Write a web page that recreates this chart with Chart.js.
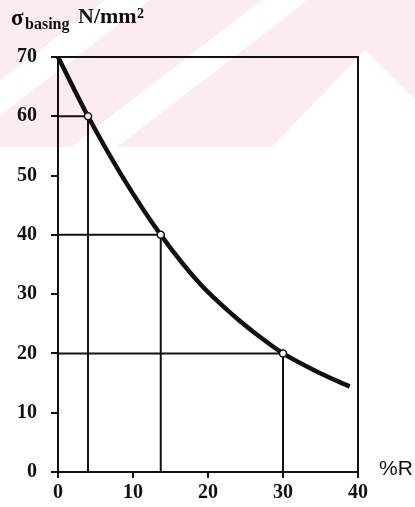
<!DOCTYPE html>
<html>
<head>
<meta charset="utf-8">
<script src="https://cdn.jsdelivr.net/npm/chart.js@4.4.1/dist/chart.umd.min.js"></script>
<style>
  html, body { margin: 0; padding: 0; background: #fff; }
</style>
</head>
<body>
<canvas id="chart" width="415" height="507"></canvas>
<script>
// curve (x = %R, y = sigma in N/mm2)
const curveX = [0, 4, 8.5, 13.7, 18.9, 23.4, 26.9, 30, 34.9, 38.9];
const curveY = [70, 60, 50, 40, 31.8, 26.4, 22.8, 20, 16.7, 14.4];
// marked points with their guide lines
const markX = [4, 13.7, 30];
const markY = [60, 40, 20];
const xTicks = [0, 10, 20, 30, 40];
const yTicks = [0, 10, 20, 30, 40, 50, 60, 70];

const ink = "#111";
const tickFont = { family: "Liberation Serif", weight: "bold", size: 20 };

const curveData = curveX.map((x, i) => ({ x: x, y: curveY[i] }));
const markData = markX.map((x, i) => ({ x: x, y: markY[i] }));

const guideSets = markX.map((x, i) => ({
  type: "line",
  data: [{ x: 0, y: markY[i] }, { x: x, y: markY[i] }, { x: x, y: 0 }],
  borderColor: ink,
  borderWidth: 2,
  pointRadius: 0,
  tension: 0,
  order: 2
}));

// faint pink watermark at the top of the scan
const watermark = {
  id: "watermark",
  beforeDraw(chart) {
    const ctx = chart.ctx;
    const h = 147, k = 1.3;
    ctx.save();
    ctx.fillStyle = "rgb(253,236,239)";
    ctx.fillRect(0, 0, chart.width, h);
    ctx.fillStyle = "#fff";
    [[105, 150], [262, 308]].forEach(b => {
      ctx.beginPath();
      ctx.moveTo(b[0], 0);
      ctx.lineTo(b[1], 0);
      ctx.lineTo(b[1] - k * h, h);
      ctx.lineTo(b[0] - k * h, h);
      ctx.closePath();
      ctx.fill();
    });
    ctx.beginPath();
    ctx.moveTo(365, 50);
    ctx.lineTo(415, 100);
    ctx.lineTo(415, h);
    ctx.lineTo(272, h);
    ctx.closePath();
    ctx.fill();
    ctx.restore();
  }
};

const labels = {
  id: "labels",
  afterDraw(chart) {
    const ctx = chart.ctx;
    ctx.save();
    ctx.fillStyle = ink;
    ctx.textBaseline = "alphabetic";
    ctx.textAlign = "left";
    ctx.font = "bold 23px 'Liberation Serif'";
    ctx.fillText("σ", 11, 25);
    ctx.font = "bold 16px 'Liberation Serif'";
    ctx.fillText("basing", 25, 29);
    ctx.font = "bold 22px 'Liberation Serif'";
    ctx.fillText("N/mm", 78, 23);
    ctx.font = "bold 14px 'Liberation Serif'";
    ctx.fillText("2", 137, 18);
    ctx.font = "21px 'Liberation Sans'";
    ctx.fillText("%R", 379, 475);
    ctx.restore();
  }
};

new Chart(document.getElementById("chart"), {
  type: "line",
  data: {
    datasets: [
      {
        data: markData,
        showLine: false,
        pointRadius: 3.5,
        pointBackgroundColor: "#fff",
        pointBorderColor: ink,
        pointBorderWidth: 1.5,
        order: 0
      },
      {
        data: curveData,
        borderColor: ink,
        borderWidth: 4.5,
        pointRadius: 0,
        cubicInterpolationMode: "monotone",
        order: 1
      },
      ...guideSets
    ]
  },
  options: {
    responsive: false,
    animation: false,
    clip: false,
    layout: { padding: { top: 57, right: 57, left: 0, bottom: 0 } },
    plugins: { legend: { display: false }, tooltip: { enabled: false } },
    scales: {
      x: {
        type: "linear",
        min: 0,
        max: 40,
        afterBuildTicks: s => { s.ticks = xTicks.map(v => ({ value: v })); },
        afterFit: s => { s.height = 35; },
        ticks: { font: tickFont, color: ink, padding: 3, maxRotation: 0 },
        grid: { drawOnChartArea: false, tickLength: 6, color: ink, lineWidth: 2 },
        border: { color: ink, width: 2 }
      },
      y: {
        type: "linear",
        min: 0,
        max: 70,
        afterBuildTicks: s => { s.ticks = yTicks.map(v => ({ value: v })); },
        afterFit: s => { s.width = 58; },
        ticks: { font: tickFont, color: ink, padding: 14 },
        grid: { drawOnChartArea: false, tickLength: 7, color: ink, lineWidth: 2 },
        border: { color: ink, width: 2 }
      },
      xTop: {
        type: "linear",
        position: "top",
        min: 0,
        max: 40,
        afterFit: s => { s.height = 0; },
        ticks: { display: false },
        grid: { display: false, drawTicks: false },
        border: { color: ink, width: 2 }
      },
      yRight: {
        type: "linear",
        position: "right",
        min: 0,
        max: 70,
        afterFit: s => { s.width = 0; },
        ticks: { display: false },
        grid: { display: false, drawTicks: false },
        border: { color: ink, width: 2 }
      }
    }
  },
  plugins: [watermark, labels]
});
</script>
</body>
</html>
